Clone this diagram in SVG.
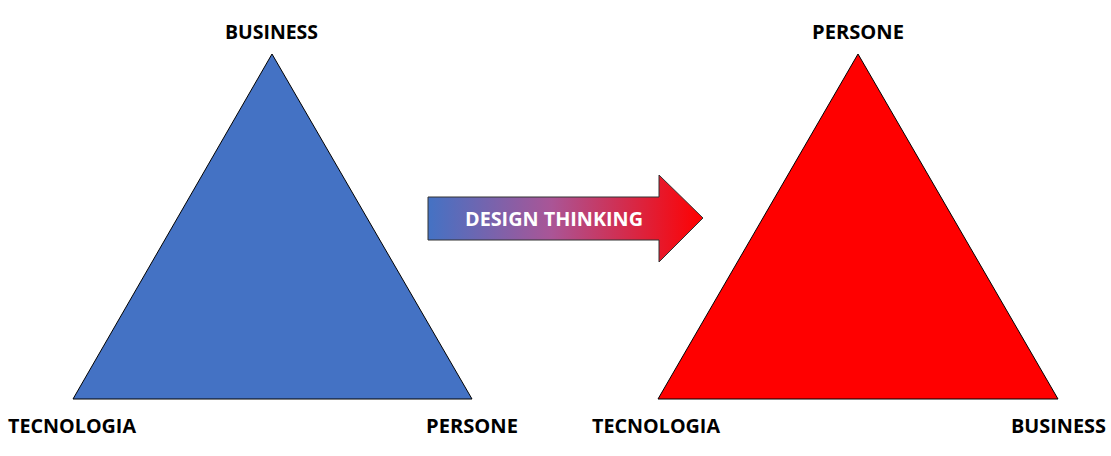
<svg xmlns="http://www.w3.org/2000/svg" width="1111" height="456" viewBox="0 0 1111 456">
<style>
.lbl{font-family:"Open Sans","Liberation Sans",sans-serif;font-weight:bold;font-size:19px;fill:#000}
.tri{stroke:#000;stroke-width:1}
.arrowtxt{font-family:"Open Sans","Liberation Sans",sans-serif;font-weight:bold;font-size:19.5px;fill:#fff}
</style>
<defs>
<linearGradient id="grad" x1="428" y1="0" x2="703" y2="0" gradientUnits="userSpaceOnUse">
<stop offset="0" stop-color="#4472C4"/>
<stop offset="0.45" stop-color="#AA5596"/>
<stop offset="1" stop-color="#FF0000"/>
</linearGradient>
</defs>
<rect width="1111" height="456" fill="#fff"/>
<g id="triangle-left">
<polygon class="tri" points="272,54 472,399 73,399" fill="#4472C4"/>
<text class="lbl" x="225" y="38.5" textLength="93" lengthAdjust="spacingAndGlyphs">BUSINESS</text>
<text class="lbl" x="8" y="432.5" textLength="128" lengthAdjust="spacingAndGlyphs">TECNOLOGIA</text>
<text class="lbl" x="426" y="432.5" textLength="92" lengthAdjust="spacingAndGlyphs">PERSONE</text>
</g>
<g id="triangle-right">
<polygon class="tri" points="858,54 1058,399 658,399" fill="#FF0000"/>
<text class="lbl" x="812" y="38.5" textLength="92" lengthAdjust="spacingAndGlyphs">PERSONE</text>
<text class="lbl" x="592" y="432.5" textLength="128" lengthAdjust="spacingAndGlyphs">TECNOLOGIA</text>
<text class="lbl" x="1011" y="432.5" textLength="95" lengthAdjust="spacingAndGlyphs">BUSINESS</text>
</g>
<g id="connectors">
<g id="arrow-design-thinking">
<polygon points="428,197 659,197 659,175 703,218 659,262 659,240 428,240" fill="url(#grad)" stroke="#333" stroke-width="1"/>
<text class="arrowtxt" x="465" y="226" textLength="178" lengthAdjust="spacingAndGlyphs">DESIGN THINKING</text>
</g>
</g>
</svg>
